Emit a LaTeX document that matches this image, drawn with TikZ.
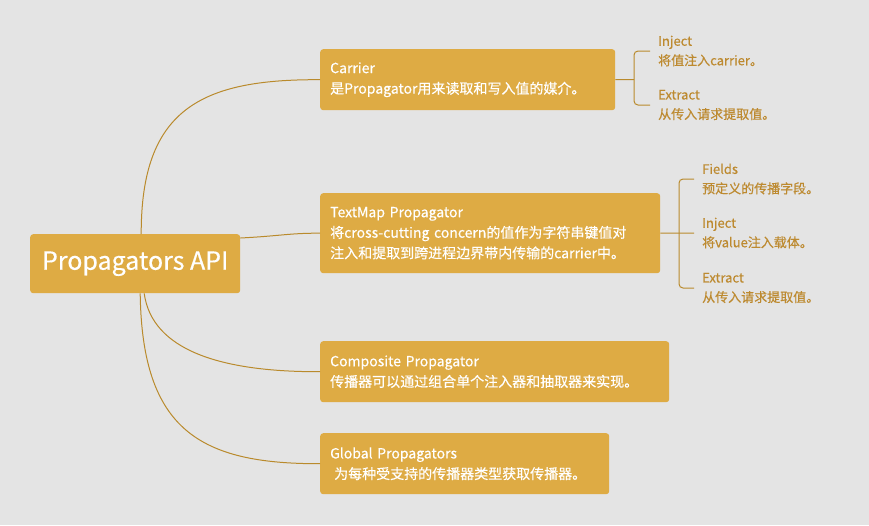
\documentclass[tikz,border=0pt]{standalone}
\usepackage{fontspec}
\setmainfont{Noto Sans CJK SC}
\newfontfamily\boxfont[FakeBold=0.4]{Noto Sans CJK SC}
\definecolor{bg}{HTML}{E4E4E4}
\definecolor{boxc}{HTML}{DEAB44}
\definecolor{linec}{HTML}{B98A2C}
\definecolor{leafc}{HTML}{BD8A30}
\tikzset{
  conn/.style={draw=linec, line width=1pt},
  bigbox/.style={fill=boxc, rounded corners=3pt, text=white, anchor=north west, inner xsep=10pt, inner ysep=0pt, align=left, font={\boxfont\fontsize{14}{20.5}\selectfont}},
  rootbox/.style={fill=boxc, rounded corners=3pt, text=white, anchor=north west, inner sep=0pt, font={\boxfont\fontsize{25}{28}\selectfont}},
  leaf/.style={anchor=west, text=leafc, inner xsep=8pt, inner ysep=0pt, align=left, font={\boxfont\fontsize{13}{19.5}\selectfont}}
}
\begin{document}
\begin{tikzpicture}[x=1pt, y=-1pt]
\useasboundingbox (0,0) rectangle (869,525);
\fill[bg] (0,0) rectangle (869,525);

\node[rootbox, minimum width=210pt, minimum height=59pt] (root) at (30,234) {Propagators API};

\node[bigbox, text width=275pt, minimum height=61pt] (carrier) at (320,49) {Carrier\\是Propagator用来读取和写入值的媒介。};
\node[bigbox, text width=320pt, minimum height=80pt] (textmap) at (320,193) {TextMap Propagator\\将cross-cutting~concern的值作为字符串键值对\\注入和提取到跨进程边界带内传输的carrier中。};
\node[bigbox, text width=329pt, minimum height=61pt] (composite) at (320,341) {Composite Propagator\\传播器可以通过组合单个注入器和抽取器来实现。};
\node[bigbox, text width=269pt, minimum height=61pt] (global) at (320,433) {Global Propagators\\\hspace*{4pt}为每种受支持的传播器类型获取传播器。};

\node[leaf] (inj1) at (650,51) {Inject\\将值注入carrier。};
\node[leaf] (ext1) at (650,105) {Extract\\从传入请求提取值。};

\node[leaf] (fields) at (694,179) {Fields\\预定义的传播字段。};
\node[leaf] (inj2) at (694,233) {Inject\\将value注入载体。};
\node[leaf] (ext2) at (694,288) {Extract\\从传入请求提取值。};

% root connectors
\draw[conn] ([xshift=6pt]root.north) .. controls (141,110) and (200,79) .. (carrier.west);
\draw[conn] ([yshift=-4pt]root.north east) .. controls (280,236) and (290,233) .. (textmap.west);
\draw[conn] ([xshift=9pt]root.south) .. controls (152,350) and (220,372) .. (composite.west);
\draw[conn] ([xshift=5pt]root.south) .. controls (142,430) and (200,464) .. (global.west);

% carrier bracket
\draw[conn] (carrier.east) -- (634,79.5) coordinate (cb);
\draw[conn, rounded corners=4pt] (inj1.west) -| (cb) |- (ext1.west);

% textmap bracket
\draw[conn] (textmap.east) -- (inj2.west);
\coordinate (tb) at (679,233);
\draw[conn, rounded corners=4pt] (fields.west) -| (tb) |- (ext2.west);
\end{tikzpicture}
\end{document}
